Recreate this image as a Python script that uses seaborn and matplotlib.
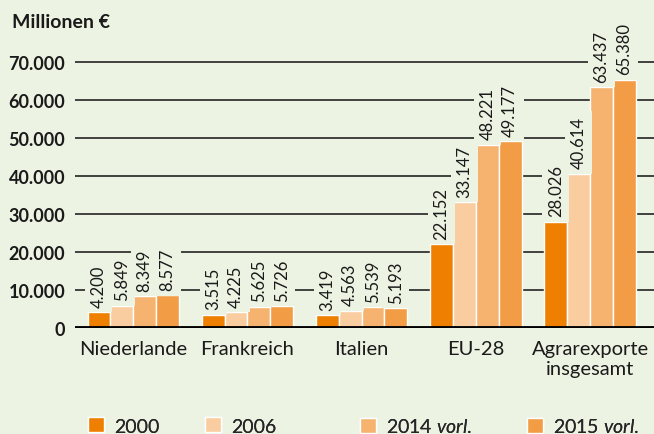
import seaborn as sns
import matplotlib.pyplot as plt
import pandas as pd

categories = ['Niederlande', 'Frankreich', 'Italien', 'EU-28', 'Agrarexporte\ninsgesamt']
years = ['2000', '2006', '2014 $\\it{vorl.}$', '2015 $\\it{vorl.}$']
v2000 = [4200, 3515, 3419, 22152, 28026]
v2006 = [5849, 4225, 4563, 33147, 40614]
v2014 = [8349, 5625, 5539, 48221, 63437]
v2015 = [8577, 5726, 5193, 49177, 65380]
yticks = [0, 10000, 20000, 30000, 40000, 50000, 60000, 70000]
ytick_labels = ['0', '10.000', '20.000', '30.000', '40.000', '50.000', '60.000', '70.000']

colors = ['#EE7F00', '#F9CDA0', '#F6B36F', '#F29C45']
bg = '#EDF3E3'

rows = []
for year, vals in zip(years, [v2000, v2006, v2014, v2015]):
    for cat, v in zip(categories, vals):
        rows.append({'cat': cat, 'year': year, 'value': v})
df = pd.DataFrame(rows)

sns.set_style('white')
plt.rcParams['font.family'] = ['Lato', 'DejaVu Sans']
plt.rcParams['mathtext.fontset'] = 'custom'
plt.rcParams['mathtext.rm'] = 'Lato'
plt.rcParams['mathtext.it'] = 'Lato:italic'

fig = plt.figure(figsize=(6.54, 4.35), dpi=100, facecolor=bg)
ax = fig.add_axes([75 / 654, 106 / 435, 1 - 75 / 654, (329 - 20) / 435])
ax.set_facecolor(bg)

sns.barplot(data=df, x='cat', y='value', hue='year', palette=colors,
            width=0.8, saturation=1, ax=ax, zorder=3, legend=True)

ax.set_xlim(-0.51, 4.56)
ax.set_ylim(0, 70000 * 309 / 266)

for t in yticks[1:]:
    ax.axhline(t, color='#333333', lw=1.3, zorder=1)
ax.axhline(0, color='black', lw=3.5, zorder=4)

for sp in ax.spines.values():
    sp.set_visible(False)

ax.set_yticks(yticks)
ax.set_yticklabels(ytick_labels, fontsize=13, fontweight='bold', color='#1a1a1a')
ax.tick_params(axis='y', length=0, pad=7)
ax.tick_params(axis='x', length=0, pad=9, labelsize=14.5, labelcolor='#1a1a1a')
ax.set_xlabel('')
ax.set_ylabel('')

for cont in ax.containers:
    for bar in cont:
        h = bar.get_height()
        label = f'{h:,.0f}'.replace(',', '.')
        ax.text(bar.get_x() + bar.get_width() / 2, h + 1400, label,
                rotation=90, ha='center', va='bottom', fontsize=12,
                color='#1a1a1a', zorder=5,
                bbox=dict(facecolor=bg, edgecolor='none', pad=4))

fig.text(12 / 654, 1 - 22 / 435, 'Millionen €', fontsize=14, fontweight='bold',
         va='center', ha='left', color='#1a1a1a')

handles, labels = ax.get_legend_handles_labels()
ax.legend_.remove()
leg_x = [88, 205, 360, 527]
for h, lab, x in zip(handles, labels, leg_x):
    leg = fig.legend([h], [lab], loc='center left', bbox_to_anchor=(x / 654, 1 - 427 / 435),
                     frameon=False, fontsize=14, handlelength=0.8, handleheight=0.8,
                     handletextpad=0.55, borderaxespad=0, borderpad=0)
    fig.add_artist(leg)

fig.savefig('out.png', dpi=100, facecolor=bg)
